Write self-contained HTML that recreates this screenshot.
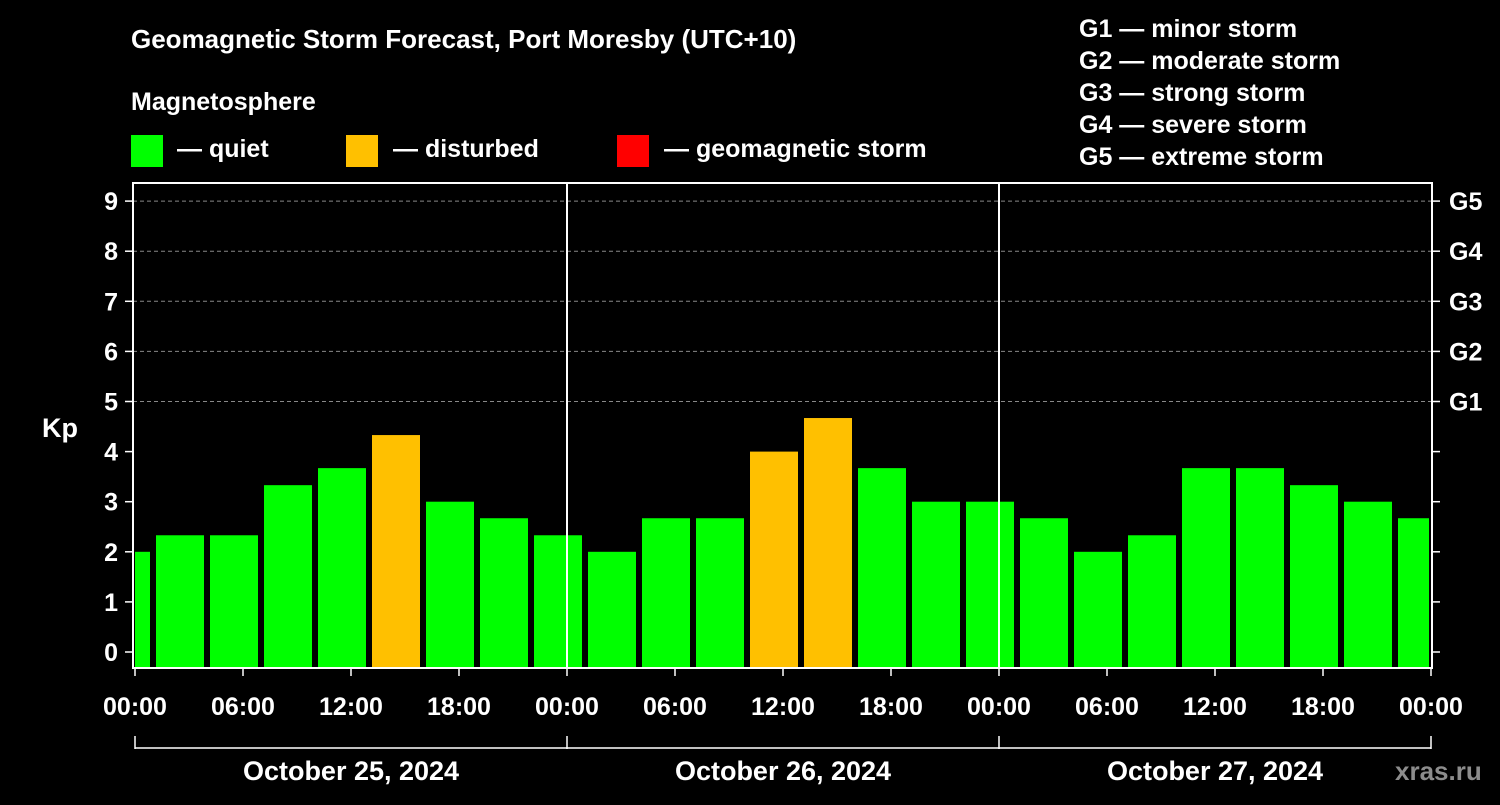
<!DOCTYPE html>
<html><head><meta charset="utf-8"><style>
body{margin:0;background:#000;width:1500px;height:800px;overflow:hidden}
svg text{font-family:"Liberation Sans",Arial,sans-serif;font-weight:bold;fill:#fff}
</style></head><body>
<svg id="chart" width="1500" height="800" viewBox="0 0 1500 800">
<rect width="1500" height="800" fill="#000"/>
<text x="131" y="48" font-size="26">Geomagnetic Storm Forecast, Port Moresby (UTC+10)</text>
<text x="131" y="110" font-size="25">Magnetosphere</text>
<g><rect x="131" y="135" width="32" height="32" fill="#00ff00"/><text x="177" y="157" font-size="25">— quiet</text></g>
<g><rect x="346" y="135" width="32" height="32" fill="#ffc000"/><text x="393" y="157" font-size="25">— disturbed</text></g>
<g><rect x="617" y="135" width="32" height="32" fill="#ff0000"/><text x="664" y="157" font-size="25">— geomagnetic storm</text></g>
<g font-size="25">
<text x="1079" y="37">G1 — minor storm</text>
<text x="1079" y="69">G2 — moderate storm</text>
<text x="1079" y="101">G3 — strong storm</text>
<text x="1079" y="133">G4 — severe storm</text>
<text x="1079" y="165">G5 — extreme storm</text>
</g>
<text x="42" y="437" font-size="27">Kp</text>
<g id="grid"></g><g id="bars"></g><g id="axes"></g>
<text x="1395" y="780" font-size="26" fill="#888" style="fill:#8c8c8c">xras.ru</text>
</svg>
<script>
const kpValues=[2.0,2.33,2.33,3.33,3.67,4.33,3.0,2.67,2.33,2.0,2.67,2.67,4.0,4.67,3.67,3.0,3.0,2.67,2.0,2.33,3.67,3.67,3.33,3.0,2.67];
const kpTicks=[0,1,2,3,4,5,6,7,8,9];
const gLabels=["G1","G2","G3","G4","G5"];
const timeLabels=["00:00","06:00","12:00","18:00","00:00","06:00","12:00","18:00","00:00","06:00","12:00","18:00","00:00"];
const dateLabels=["October 25, 2024","October 26, 2024","October 27, 2024"];
const NS="http://www.w3.org/2000/svg";
const L=133,R=1432,T=183,B=668,X0=135,HOUR=18;
const y=k=>652-50.1*k;
const x=h=>X0+h*HOUR;
function mk(p,tag,a){const e=document.createElementNS(NS,tag);for(const k in a)e.setAttribute(k,a[k]);p.appendChild(e);return e;}
const grid=document.getElementById('grid'),bars=document.getElementById('bars'),axes=document.getElementById('axes');
kpTicks.forEach(k=>{if(k>=5){const l=mk(grid,'line',{x1:L,x2:R,y1:y(k),y2:y(k),stroke:'#888','stroke-dasharray':'4,3','stroke-width':1});

}});
kpValues.forEach((v,i)=>{const c=x(-0.5+3*i);let x1=Math.max(c-24,L+2),x2=Math.min(c+24,R-3);
const col=v>=5?'#ff0000':(v>=4?'#ffc000':'#00ff00');
const r=mk(bars,'rect',{x:x1,y:y(v),width:x2-x1,height:B-y(v),fill:col});

});
const fr=mk(axes,'rect',{x:L,y:T,width:R-L,height:B-T,fill:'none',stroke:'#fff','stroke-width':2});


[24,48].forEach(h=>{const l=mk(axes,'line',{x1:x(h),x2:x(h),y1:T,y2:B,stroke:'#fff','stroke-width':2});

});
kpTicks.forEach(k=>{mk(axes,'line',{x1:L-8,x2:L,y1:y(k),y2:y(k),stroke:'#fff','stroke-width':1.5});
mk(axes,'line',{x1:R,x2:R+8,y1:y(k),y2:y(k),stroke:'#fff','stroke-width':1.5});
const t=mk(axes,'text',{x:L-15,y:y(k)+9,'text-anchor':'end','font-size':25});t.textContent=k;

});
gLabels.forEach((g,i)=>{const t=mk(axes,'text',{x:R+17,y:y(5+i)+9,'font-size':25});t.textContent=g;

});
timeLabels.forEach((s,i)=>{const xx=x(6*i);mk(axes,'line',{x1:xx,x2:xx,y1:B,y2:B+8,stroke:'#fff','stroke-width':1.5});
const t=mk(axes,'text',{x:xx,y:715,'text-anchor':'middle','font-size':25});t.textContent=s;

});
mk(axes,'line',{x1:x(0),x2:x(72),y1:748,y2:748,stroke:'#fff','stroke-width':1.5});
[0,24,48,72].forEach(h=>mk(axes,'line',{x1:x(h),x2:x(h),y1:736,y2:749,stroke:'#fff','stroke-width':1.5}));
dateLabels.forEach((d,i)=>{const t=mk(axes,'text',{x:x(24*i+12),y:780,'text-anchor':'middle','font-size':27});t.textContent=d;

});
</script>
</body></html>
